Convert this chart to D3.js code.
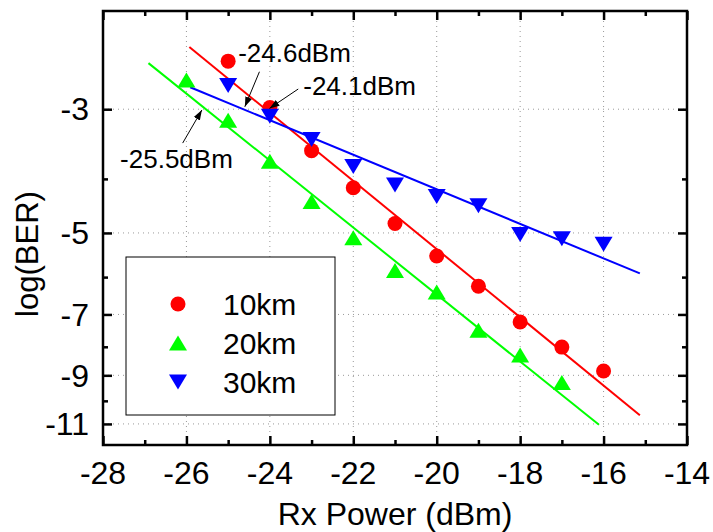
<!DOCTYPE html>
<html>
<head>
<meta charset="utf-8">
<script src="https://cdn.jsdelivr.net/npm/d3@7"></script>
<style>
  body { margin: 0; background: #fff; }
  svg text { font-family: Arial, "Liberation Sans", sans-serif; fill: #000; }
</style>
</head>
<body>
<svg id="chart" width="713" height="532"></svg>
<script>
// ---------- data ----------
const rxPower = [-25, -24, -23, -22, -21, -20, -19, -18, -17, -16];
const rxPower20 = [-26, -25, -24, -23, -22, -21, -20, -19, -18, -17];
const ber10km = [-2.46, -2.98, -3.56, -4.15, -4.81, -5.50, -6.23, -7.22, -8.01, -8.84];
const ber20km = [-2.66, -3.14, -3.72, -4.39, -5.10, -5.84, -6.38, -7.47, -8.28, -9.27];
const ber30km = [-2.72, -3.09, -3.40, -3.80, -4.10, -4.30, -4.47, -5.03, -5.12, -5.24];
const fit10km = [[-25.93, -2.32], [-15.13, -10.61]];
const fit20km = [[-26.91, -2.48], [-16.11, -11.04]];
const fit30km = [[-25.91, -2.74], [-15.13, -5.91]];
const seriesNames = ["10km", "20km", "30km"];
const seriesColors = ["#ff0000", "#00ff00", "#0000ff"];
const xTicks = [-28, -26, -24, -22, -20, -18, -16, -14];
const xMinor = [-27, -25, -23, -21, -19, -17, -15];
const yTicks = [-3, -5, -7, -9, -11];
const yMinor = [-4, -6, -8, -10];
const annotations = [
  { text: "-24.6dBm", tx: -24.76, ty: -2.47, tail: [-24.25, -2.57], tip: [-24.6, -2.97] },
  { text: "-24.1dBm", tx: -23.20, ty: -2.83, tail: [-23.32, -2.76], tip: [-24.01, -2.99] },
  { text: "-25.5dBm", tx: -27.59, ty: -3.82, tail: [-26.09, -3.45], tip: [-25.63, -3.01] }
];

// ---------- layout ----------
const L = 103, R = 687, T = 11, B = 445;
const svg = d3.select("#chart");

const x = d3.scaleLinear().domain([-28, -14]).range([L, R]);
const yLog = d3.scaleLog().domain([2, 12]).range([T, B]);
const y = v => yLog(-v);

// grid
const grid = svg.append("g");
grid.selectAll("line.gx").data(xTicks.slice(1, -1)).join("line")
  .attr("x1", d => x(d)).attr("x2", d => x(d)).attr("y1", T).attr("y2", B)
  .attr("stroke", "#999").attr("stroke-width", 1).attr("stroke-dasharray", "1,4");
grid.selectAll("line.gy").data(yTicks).join("line")
  .attr("y1", d => y(d)).attr("y2", d => y(d)).attr("x1", L).attr("x2", R)
  .attr("stroke", "#999").attr("stroke-width", 1).attr("stroke-dasharray", "1,4");

// axes (ticks inward, mirrored)
const axB = svg.append("g").attr("transform", `translate(0,${B})`)
  .call(d3.axisTop(x).tickValues(xTicks).tickSize(9).tickFormat(""));
const axBm = svg.append("g").attr("transform", `translate(0,${B})`)
  .call(d3.axisTop(x).tickValues(xMinor).tickSize(5).tickFormat(""));
const axT = svg.append("g").attr("transform", `translate(0,${T})`)
  .call(d3.axisBottom(x).tickValues(xTicks).tickSize(9).tickFormat(""));
const axTm = svg.append("g").attr("transform", `translate(0,${T})`)
  .call(d3.axisBottom(x).tickValues(xMinor).tickSize(5).tickFormat(""));
const axL = svg.append("g").attr("transform", `translate(${L},0)`)
  .call(d3.axisRight(yLog).tickValues(yTicks.map(v => -v)).tickSize(9).tickFormat(""));
const axLm = svg.append("g").attr("transform", `translate(${L},0)`)
  .call(d3.axisRight(yLog).tickValues(yMinor.map(v => -v)).tickSize(5).tickFormat(""));
const axR = svg.append("g").attr("transform", `translate(${R},0)`)
  .call(d3.axisLeft(yLog).tickValues(yTicks.map(v => -v)).tickSize(9).tickFormat(""));
const axRm = svg.append("g").attr("transform", `translate(${R},0)`)
  .call(d3.axisLeft(yLog).tickValues(yMinor.map(v => -v)).tickSize(5).tickFormat(""));
[axB, axBm, axT, axTm, axL, axLm, axR, axRm].forEach(g => {
  g.select(".domain").remove();
  g.selectAll(".tick line").attr("stroke", "#000").attr("stroke-width", 2.5);
});

// frame
svg.append("rect").attr("x", L).attr("y", T).attr("width", R - L).attr("height", B - T)
  .attr("fill", "none").attr("stroke", "#000").attr("stroke-width", 2.5);

// tick labels
svg.append("g").selectAll("text").data(xTicks).join("text")
  .attr("x", d => x(d)).attr("y", 484).attr("text-anchor", "middle")
  .attr("font-size", 32).text(d => String(d));
svg.append("g").selectAll("text").data(yTicks).join("text")
  .attr("x", 89).attr("y", d => y(d)).attr("dy", "0.35em").attr("text-anchor", "end")
  .attr("font-size", 32).text(d => String(d));

// axis titles
svg.append("text").attr("x", (L + R) / 2).attr("y", 525).attr("text-anchor", "middle")
  .attr("font-size", 32).text("Rx Power (dBm)");
svg.append("text").attr("transform", "translate(38,254) rotate(-90)")
  .attr("text-anchor", "middle").attr("font-size", 31).text("log(BER)");

// fit lines
const line = d3.line().x(d => x(d[0])).y(d => y(d[1]));
[fit10km, fit20km, fit30km].forEach((f, i) => {
  svg.append("path").datum(f).attr("d", line).attr("fill", "none")
    .attr("stroke", seriesColors[i]).attr("stroke-width", 2);
});

// markers
const triUp = "M0,-7.5L9,7.5L-9,7.5Z";
const triDown = "M0,7.5L9,-7.5L-9,-7.5Z";
svg.append("g").selectAll("circle").data(rxPower.map((p, i) => [p, ber10km[i]])).join("circle")
  .attr("cx", d => x(d[0])).attr("cy", d => y(d[1])).attr("r", 7.5).attr("fill", seriesColors[0]);
svg.append("g").selectAll("path").data(rxPower20.map((p, i) => [p, ber20km[i]])).join("path")
  .attr("d", triUp).attr("transform", d => `translate(${x(d[0])},${y(d[1])})`).attr("fill", seriesColors[1]);
svg.append("g").selectAll("path").data(rxPower.map((p, i) => [p, ber30km[i]])).join("path")
  .attr("d", triDown).attr("transform", d => `translate(${x(d[0])},${y(d[1])})`).attr("fill", seriesColors[2]);

// annotations
svg.append("defs").append("marker").attr("id", "arr").attr("viewBox", "0 0 10 10")
  .attr("refX", 10).attr("refY", 5).attr("markerWidth", 10).attr("markerHeight", 10)
  .attr("markerUnits", "userSpaceOnUse").attr("orient", "auto")
  .append("path").attr("d", "M0,1.5L10,5L0,8.5Z").attr("fill", "#000");
const ann = svg.append("g");
annotations.forEach(a => {
  ann.append("line").attr("x1", x(a.tail[0])).attr("y1", y(a.tail[1]))
    .attr("x2", x(a.tip[0])).attr("y2", y(a.tip[1]))
    .attr("stroke", "#000").attr("stroke-width", 1).attr("marker-end", "url(#arr)");
  ann.append("text").attr("x", x(a.tx)).attr("y", y(a.ty)).attr("font-size", 26).text(a.text);
});

// legend
const lg = svg.append("g");
lg.append("rect").attr("x", 126).attr("y", 257).attr("width", 209).attr("height", 158)
  .attr("fill", "#fff").attr("stroke", "#000").attr("stroke-width", 1);
const rows = [304, 343, 382];
lg.append("circle").attr("cx", 178).attr("cy", rows[0]).attr("r", 7.5).attr("fill", seriesColors[0]);
lg.append("path").attr("d", triUp).attr("transform", `translate(178,${rows[1]})`).attr("fill", seriesColors[1]);
lg.append("path").attr("d", triDown).attr("transform", `translate(178,${rows[2]})`).attr("fill", seriesColors[2]);
seriesNames.forEach((n, i) => {
  lg.append("text").attr("x", 223).attr("y", rows[i]).attr("dy", "0.36em")
    .attr("font-size", 30).text(n);
});
</script>
</body>
</html>
